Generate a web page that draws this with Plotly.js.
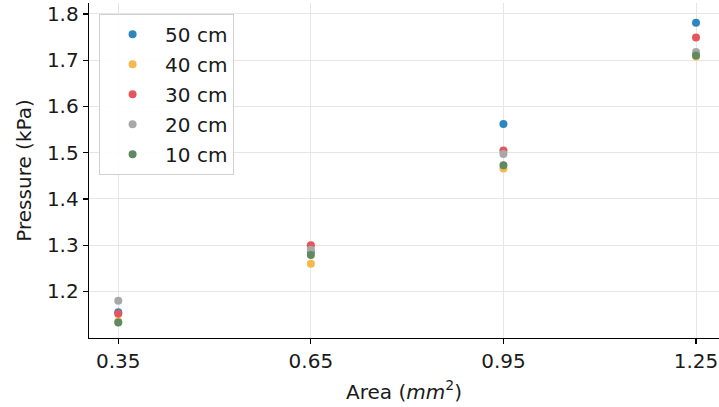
<!DOCTYPE html>
<html>
<head>
<meta charset="utf-8">
<script src="https://cdn.plot.ly/plotly-3.0.1.min.js"></script>
<style>html,body{margin:0;padding:0;background:#fff;}#chart{width:719px;height:407px;}</style>
</head>
<body>
<div id="chart"></div>
<script>
const areas = [0.35, 0.65, 0.95, 1.25];
const seriesNames = ["50 cm", "40 cm", "30 cm", "20 cm", "10 cm"];
const p50 = [1.155, 1.285, 1.562, 1.781];
const p40 = [1.135, 1.260, 1.466, 1.708];
const p30 = [1.152, 1.300, 1.505, 1.749];
const p20 = [1.180, 1.290, 1.497, 1.718];
const p10 = [1.133, 1.279, 1.473, 1.710];
const xTickVals = [0.35, 0.65, 0.95, 1.25];
const xTickText = ["0.35", "0.65", "0.95", "1.25"];
const yTickVals = [1.2, 1.3, 1.4, 1.5, 1.6, 1.7, 1.8];

const colors = ["#2e86c1", "#f7b84b", "#e4555c", "#a8a8a8", "#5f8a60"];
const allSeries = [p50, p40, p30, p20, p10];

const traces = allSeries.map((ys, i) => ({
  type: "scatter",
  mode: "markers",
  x: areas,
  y: ys,
  name: seriesNames[i],
  legendgroup: "g" + i,
  marker: {color: colors[i], size: 8, line: {width: 0}}
}));

const font = "DejaVu Sans, sans-serif";
const layout = {
  width: 719, height: 407,
  margin: {l: 89, r: 0, t: 3, b: 69},
  paper_bgcolor: "#fff", plot_bgcolor: "#fff",
  font: {family: font, size: 20, color: "#1a1a1a"},
  showlegend: true,
  legend: {
    x: 0.016, y: 0.968, xanchor: "left", yanchor: "top",
    bgcolor: "rgba(255,255,255,0.9)", bordercolor: "#d0d0d0", borderwidth: 1,
    font: {family: font, size: 20, color: "#1a1a1a"},
    itemwidth: 55, tracegroupgap: 1
  },
  xaxis: {
    range: [0.3044, 1.2858],
    tickvals: xTickVals, ticktext: xTickText,
    ticklabeloverflow: "allow",
    showgrid: true, gridcolor: "#e6e6e6", gridwidth: 1,
    showline: true, linecolor: "#000", linewidth: 1.3,
    ticks: "outside", ticklen: 5, tickcolor: "#000", tickwidth: 1.2,
    zeroline: false, mirror: false,
    tickfont: {family: font, size: 20, color: "#1a1a1a"},
    title: {text: "Area (<i>mm</i><sup>2</sup>)", font: {family: font, size: 20, color: "#1a1a1a"}, standoff: 12}
  },
  yaxis: {
    range: [1.0993, 1.8237],
    tickvals: yTickVals,
    tickformat: ".1f",
    showgrid: true, gridcolor: "#e6e6e6", gridwidth: 1,
    showline: true, linecolor: "#000", linewidth: 1.3,
    ticks: "outside", ticklen: 5, tickcolor: "#000", tickwidth: 1.2,
    zeroline: false, mirror: false,
    tickfont: {family: font, size: 20, color: "#1a1a1a"},
    title: {text: "Pressure (kPa)", font: {family: font, size: 20, color: "#1a1a1a"}, standoff: 10}
  }
};

Plotly.newPlot("chart", traces, layout, {displayModeBar: false, staticPlot: true});
</script>
</body>
</html>
